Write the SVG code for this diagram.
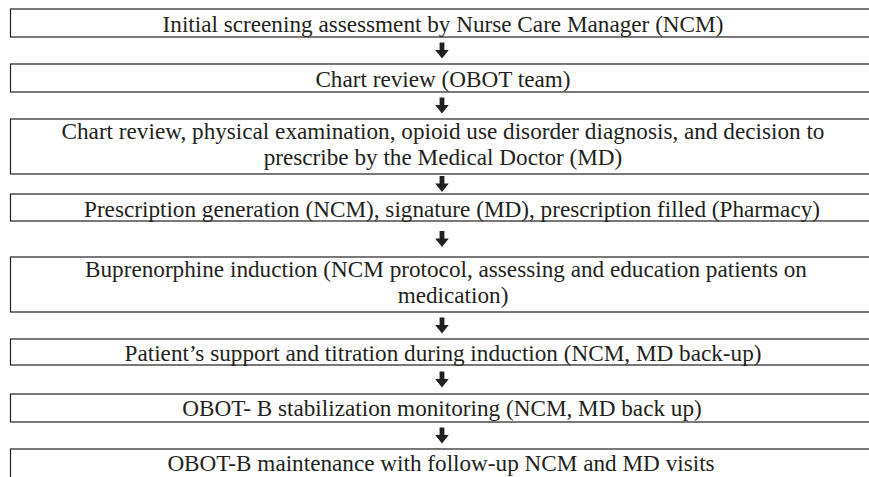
<svg xmlns="http://www.w3.org/2000/svg" width="869" height="477" viewBox="0 0 869 477">
<style>
.box{fill:#fff;stroke:#231f20;stroke-width:1.2}
.t{font-family:"Liberation Serif","Times New Roman",serif;font-size:23.2px;fill:#231f20;text-anchor:middle}
.arr{fill:#231f20}
</style>
<defs>
<path id="arrow" d="M-2.4,-8 H2.4 V-0.5 H6.8 L0,8 L-6.8,-0.5 H-2.4 Z"/>
</defs>
<rect width="869" height="477" fill="#fff"/>
<g id="n1"><rect class="box" x="10.5" y="9" width="880" height="28"/><text class="t" x="443" y="31.5">Initial screening assessment by Nurse Care Manager (NCM)</text></g>
<g id="n2"><rect class="box" x="10.5" y="64" width="880" height="28"/><text class="t" x="443" y="86.5">Chart review (OBOT team)</text></g>
<g id="n3"><rect class="box" x="10.5" y="119" width="880" height="55"/><text class="t"><tspan x="443" y="138.5">Chart review, physical examination, opioid use disorder diagnosis, and decision to</tspan><tspan x="443" y="164.5">prescribe by the Medical Doctor (MD)</tspan></text></g>
<g id="n4"><rect class="box" x="10.5" y="194" width="880" height="27"/><text class="t" x="452" y="216.5">Prescription generation (NCM), signature (MD), prescription filled (Pharmacy)</text></g>
<g id="n5"><rect class="box" x="10.5" y="257" width="880" height="55"/><text class="t"><tspan x="446" y="276.5">Buprenorphine induction (NCM protocol, assessing and education patients on</tspan><tspan x="453" y="302.5">medication)</tspan></text></g>
<g id="n6"><rect class="box" x="10.5" y="339" width="880" height="26"/><text class="t" x="443" y="360.5">Patient’s support and titration during induction (NCM, MD back-up)</text></g>
<g id="n7"><rect class="box" x="10.5" y="394" width="880" height="28"/><text class="t" x="442" y="416">OBOT- B stabilization monitoring (NCM, MD back up)</text></g>
<g id="n8"><rect class="box" x="10.5" y="449" width="880" height="40"/><text class="t" x="441" y="471">OBOT-B maintenance with follow-up NCM and MD visits</text></g>
<g id="connectors" class="arr">
<use href="#arrow" x="442" y="50.5"/>
<use href="#arrow" x="442" y="105.5"/>
<use href="#arrow" x="442" y="184"/>
<use href="#arrow" x="442" y="239"/>
<use href="#arrow" x="442" y="325.5"/>
<use href="#arrow" x="442" y="379.5"/>
<use href="#arrow" x="442" y="435.5"/>
</g>
</svg>
